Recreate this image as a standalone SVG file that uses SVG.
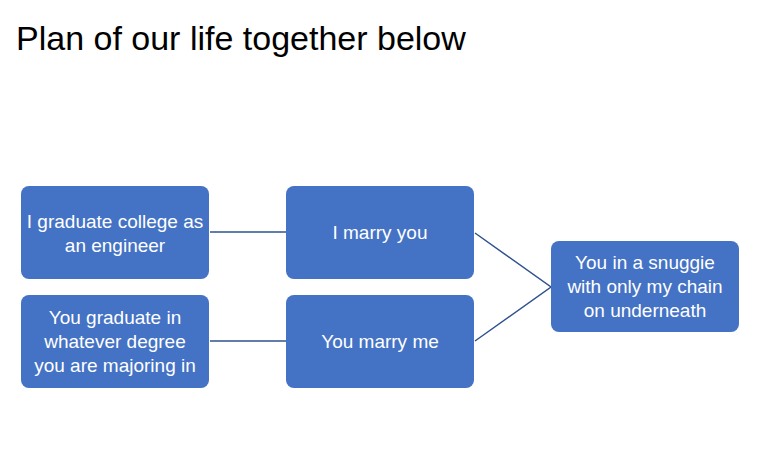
<svg xmlns="http://www.w3.org/2000/svg" width="765" height="451" viewBox="0 0 765 451">
<style>
.box{fill:#4472C4;}
.t{font-family:"Liberation Sans",Arial,sans-serif;font-size:19px;fill:#fff;text-anchor:middle;}
.title{font-family:"Liberation Sans",Arial,sans-serif;font-size:34px;fill:#000;}
.c{stroke:#2F528F;stroke-width:1.5;fill:none;}
</style>
<rect width="765" height="451" fill="#fff"/>
<text class="title" x="16" y="50">Plan of our life together below</text>
<g id="connectors">
<line class="c" x1="210" y1="232" x2="286" y2="232"/>
<line class="c" x1="210" y1="341" x2="286" y2="341"/>
<polyline class="c" points="475,233 551,287 475,341"/>
</g>
<g id="n1"><rect class="box" x="21" y="186" width="188" height="93" rx="8"/>
<text class="t" x="115" y="228">I graduate college as</text><text class="t" x="115" y="252">an engineer</text></g>
<g id="n2"><rect class="box" x="21" y="295" width="188" height="93" rx="8"/>
<text class="t" x="115" y="324">You graduate in</text><text class="t" x="115" y="348">whatever degree</text><text class="t" x="115" y="372">you are majoring in</text></g>
<g id="n3"><rect class="box" x="286" y="186" width="188" height="93" rx="8"/>
<text class="t" x="380" y="239">I marry you</text></g>
<g id="n4"><rect class="box" x="286" y="295" width="188" height="93" rx="8"/>
<text class="t" x="380" y="348">You marry me</text></g>
<g id="n5"><rect class="box" x="551" y="241" width="188" height="91" rx="8"/>
<text class="t" x="645" y="269">You in a snuggie</text><text class="t" x="645" y="293">with only my chain</text><text class="t" x="645" y="317">on underneath</text></g>
</svg>
